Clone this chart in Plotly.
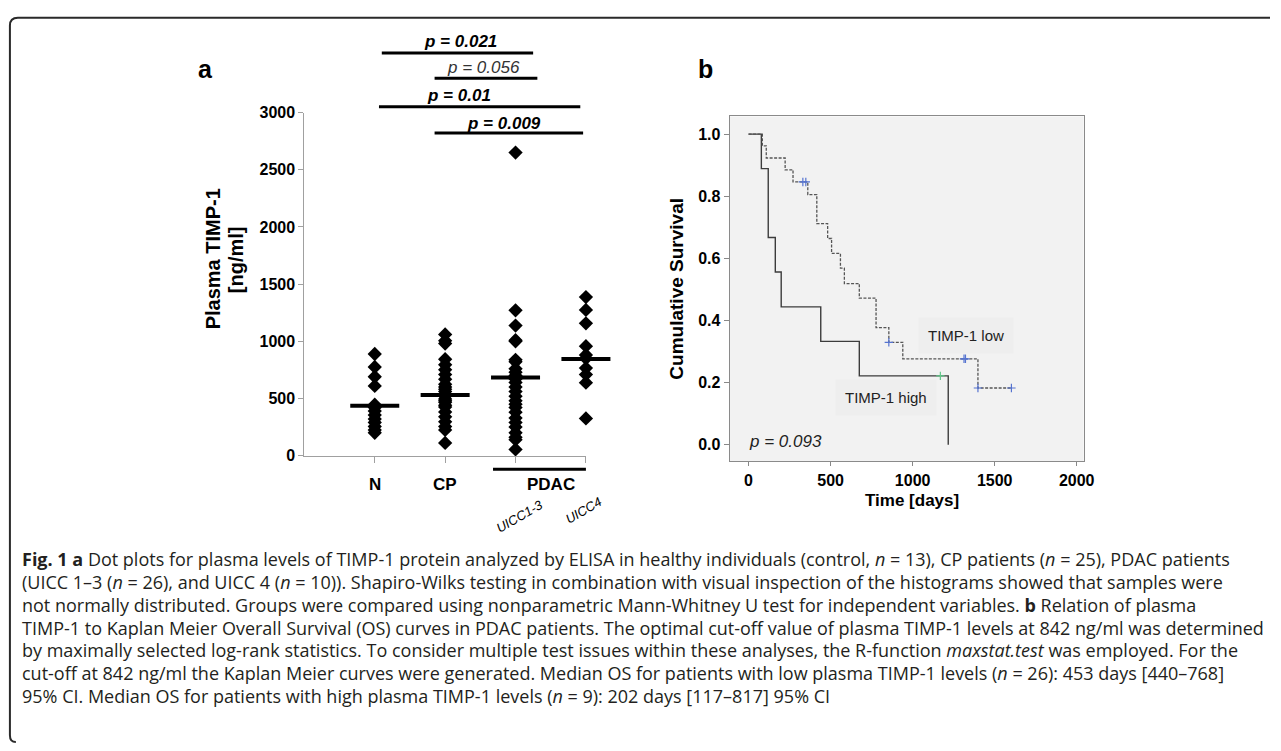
import plotly.graph_objects as go

W, H = 1281, 751

# ---------------- data: panel a (plasma TIMP-1, ng/ml) ----------------
groups = ["N", "CP", "UICC1-3", "UICC4"]
n_vals = [889, 775, 690, 610, 445, 420, 390, 355, 320, 290, 255, 225, 200]
cp_vals = [1060, 1005, 980, 843, 795, 752, 709, 667, 624, 600, 581, 560, 538, 520,
           496, 480, 467, 440, 425, 382, 339, 296, 254, 225, 111]
uicc13_vals = [2650, 1271, 1137, 1009, 1000, 838, 820, 760, 730, 700, 670, 640, 600,
               560, 520, 480, 450, 420, 380, 330, 290, 250, 200, 160, 140, 54]
uicc4_vals = [1387, 1274, 1157, 957, 880, 850, 766, 709, 638, 325]
group_bars = [436, 530, 684, 846]
y_ticks_a = [0, 500, 1000, 1500, 2000, 2500, 3000]

# comparisons: (group i, group j, label, bold)
comparisons = [(0, 2, "p = 0.021", True), (1, 2, "p = 0.056", False),
               (0, 3, "p = 0.01", True), (1, 3, "p = 0.009", True)]

# ---------------- data: panel b (Kaplan-Meier) ----------------
low_t = [0, 84, 108, 223, 271, 361, 416, 482, 506, 560, 584, 675, 777, 855, 940, 1398, 1602]
low_s = [1.0, 0.962, 0.923, 0.885, 0.846, 0.805, 0.712, 0.664, 0.616, 0.569, 0.519,
         0.472, 0.377, 0.330, 0.277, 0.183, 0.183]
low_cens_t = [331, 349, 855, 1313, 1322, 1398, 1602]
low_cens_s = [0.846, 0.846, 0.330, 0.277, 0.277, 0.183, 0.183]
high_t = [0, 78, 120, 163, 199, 440, 675, 1217]
high_s = [1.0, 0.889, 0.667, 0.556, 0.444, 0.333, 0.222, 0.0]
high_cens_t = [1169]
high_cens_s = [0.222]
x_ticks_b = [0, 500, 1000, 1500, 2000]
y_ticks_b = [0.0, 0.2, 0.4, 0.6, 0.8, 1.0]

caption_lines = [
    "<b>Fig. 1 a</b> Dot plots for plasma levels of TIMP-1 protein analyzed by ELISA in healthy individuals (control, <i>n</i> = 13), CP patients (<i>n</i> = 25), PDAC patients",
    "(UICC 1–3 (<i>n</i> = 26), and UICC 4 (<i>n</i> = 10)). Shapiro-Wilks testing in combination with visual inspection of the histograms showed that samples were",
    "not normally distributed. Groups were compared using nonparametric Mann-Whitney U test for independent variables. <b>b</b> Relation of plasma",
    "TIMP-1 to Kaplan Meier Overall Survival (OS) curves in PDAC patients. The optimal cut-off value of plasma TIMP-1 levels at 842 ng/ml was determined",
    "by maximally selected log-rank statistics. To consider multiple test issues within these analyses, the R-function <i>maxstat.test</i> was employed. For the",
    "cut-off at 842 ng/ml the Kaplan Meier curves were generated. Median OS for patients with low plasma TIMP-1 levels (<i>n</i> = 26): 453 days [440–768]",
    "95% CI. Median OS for patients with high plasma TIMP-1 levels (<i>n</i> = 9): 202 days [117–817] 95% CI",
]


def px(x):
    return x / W


def py(y):
    return 1 - y / H


AX = "Liberation Sans"
CAP = "Open Sans"
GREY = "#a0a0a0"

fig = go.Figure()

# ---- panel a: dots
all_vals = [n_vals, cp_vals, uicc13_vals, uicc4_vals]
for i, vals in enumerate(all_vals):
    fig.add_trace(go.Scatter(
        x=[i] * len(vals), y=vals, mode="markers", xaxis="x", yaxis="y",
        marker=dict(symbol="diamond", size=11, color="black", line=dict(width=0)),
        cliponaxis=False, showlegend=False, hoverinfo="y"))
fig.add_trace(go.Scatter(
    x=list(range(len(groups))), y=group_bars, mode="markers", xaxis="x", yaxis="y",
    marker=dict(symbol="line-ew", size=35, line=dict(width=4, color="black")),
    cliponaxis=False, showlegend=False, hoverinfo="y"))

# ---- panel b: KM curves
fig.add_trace(go.Scatter(x=high_t, y=high_s, mode="lines", xaxis="x2", yaxis="y2",
                         line=dict(shape="hv", color="#3c3c3c", width=1.4),
                         showlegend=False))
fig.add_trace(go.Scatter(x=low_t, y=low_s, mode="lines", xaxis="x2", yaxis="y2",
                         line=dict(shape="hv", color="#555555", width=1.3, dash="3px,1.5px"),
                         showlegend=False))
fig.add_trace(go.Scatter(x=low_cens_t, y=low_cens_s, mode="markers", xaxis="x2", yaxis="y2",
                         marker=dict(symbol="cross-thin", size=6,
                                     line=dict(width=1.2, color="#5573d0")),
                         showlegend=False))
fig.add_trace(go.Scatter(x=high_cens_t, y=high_cens_s, mode="markers", xaxis="x2", yaxis="y2",
                         marker=dict(symbol="cross-thin", size=6,
                                     line=dict(width=1.2, color="#62c98a")),
                         showlegend=False))

shapes = []
annotations = []

# outer frame
shapes.append(dict(type="path", xref="paper", yref="paper",
                   path=f"M {px(1281)},{py(10)} L {px(18)},{py(10)} Q {px(10)},{py(10)} {px(10)},{py(18)} "
                        f"L {px(10)},{py(744)} Q {px(10)},{py(751)} {px(16)},{py(751)}",
                   line=dict(color="#2a2a2a", width=2)))

# panel b background
shapes.append(dict(type="rect", xref="x2 domain", yref="y2 domain", x0=0, x1=1, y0=0, y1=1,
                   fillcolor="#f2f2f2", line=dict(width=0), layer="below"))

# significance brackets (layout positions)
br_x0 = [0.10, 0.85, 0.06, 0.85]
br_x1 = [2.25, 2.31, 2.92, 2.96]
br_y = [46, 72, 101, 128]
txt_x = [1.225, 1.55, 1.2, 1.83]
txt_y = [34, 61, 90, 118]
for k, (gi, gj, lab, bold) in enumerate(comparisons):
    shapes.append(dict(type="line", xref="x", yref="paper", x0=br_x0[k], x1=br_x1[k],
                       y0=py(br_y[k]), y1=py(br_y[k]), line=dict(color="black", width=3)))
    t = f"<i>{lab}</i>"
    if bold:
        t = f"<b>{t}</b>"
    annotations.append(dict(xref="x", yref="paper", x=txt_x[k], y=py(txt_y[k]), text=t,
                            showarrow=False, xanchor="center", yanchor="middle",
                            font=dict(family=AX, size=17, color="black" if bold else "#333333")))

# PDAC group line
shapes.append(dict(type="line", xref="x", yref="paper", x0=1.68, x1=3.02, y0=py(472), y1=py(472),
                   line=dict(color="black", width=3)))

# x labels panel a
for lab, xx in [("N", 0), ("CP", 1), ("PDAC", 2.5)]:
    annotations.append(dict(xref="x", yref="paper", x=xx, y=py(488), text=f"<b>{lab}</b>",
                            showarrow=False, xanchor="center", yanchor="middle",
                            font=dict(family=AX, size=17, color="black")))
for lab, xx, yy in [("UICC1-3", 2.05, 520), ("UICC4", 2.96, 514)]:
    annotations.append(dict(xref="x", yref="paper", x=xx, y=py(yy), text=f"<i>{lab}</i>",
                            showarrow=False, xanchor="center", yanchor="middle", textangle=-30,
                            font=dict(family=AX, size=13, color="black")))

# y title panel a
annotations.append(dict(xref="paper", yref="paper", x=px(215), y=py(257), text="<b>Plasma TIMP-1</b>",
                        showarrow=False, textangle=-90, xanchor="center", yanchor="middle",
                        font=dict(family=AX, size=20, color="black")))
annotations.append(dict(xref="paper", yref="paper", x=px(238), y=py(257), text="<b>[ng/ml]</b>",
                        showarrow=False, textangle=-90, xanchor="center", yanchor="middle",
                        font=dict(family=AX, size=20, color="black")))

# panel letters
for lab, xx in [("a", 207), ("b", 712)]:
    annotations.append(dict(xref="paper", yref="paper", x=px(xx), y=py(62), text=f"<b>{lab}</b>",
                            showarrow=False, xanchor="center", yanchor="middle",
                            font=dict(family=AX, size=25, color="black")))

# panel b titles
annotations.append(dict(xref="paper", yref="paper", x=px(682), y=py(287), text="<b>Cumulative Survival</b>",
                        showarrow=False, textangle=-90, xanchor="center", yanchor="middle",
                        font=dict(family=AX, size=19, color="black")))
annotations.append(dict(xref="paper", yref="paper", x=px(920), y=py(504), text="<b>Time [days]</b>",
                        showarrow=False, xanchor="center", yanchor="middle",
                        font=dict(family=AX, size=17, color="black")))

# KM labels
annotations.append(dict(xref="x2", yref="y2", x=1325, y=0.352, text="TIMP-1 low", showarrow=False,
                        xanchor="center", yanchor="middle", bgcolor="#eeeeee", borderpad=9,
                        font=dict(family=AX, size=15, color="#222222")))
annotations.append(dict(xref="x2", yref="y2", x=837, y=0.151, text="TIMP-1 high", showarrow=False,
                        xanchor="center", yanchor="middle", bgcolor="#eeeeee", borderpad=9,
                        font=dict(family=AX, size=15, color="#222222")))
annotations.append(dict(xref="x2", yref="y2", x=-12, y=0.01, text="<i>p = 0.093</i>", showarrow=False,
                        xanchor="left", yanchor="middle",
                        font=dict(family=AX, size=17, color="#222222")))

# caption
for k, line in enumerate(caption_lines):
    annotations.append(dict(xref="paper", yref="paper", x=px(20), y=py(564 + k * 23.3), text=line,
                            showarrow=False, xanchor="left", yanchor="middle", align="left",
                            font=dict(family=CAP, size=18, color="#231f20")))

tickfont = dict(family=AX, size=16, color="black", weight="bold")

fig.update_layout(
    width=W, height=H, margin=dict(l=0, r=0, t=0, b=0),
    paper_bgcolor="white", plot_bgcolor="rgba(0,0,0,0)",
    showlegend=False, shapes=shapes, annotations=annotations,
    xaxis=dict(domain=[px(307), px(591)], range=[-1, 3], tickvals=list(range(len(groups))),
               showticklabels=False, ticks="outside", ticklen=6, tickcolor=GREY,
               showline=True, linecolor=GREY, linewidth=1, showgrid=False, zeroline=False,
               anchor="y", fixedrange=True),
    yaxis=dict(domain=[py(458), py(107)], range=[0, 3000], tickvals=y_ticks_a,
               ticks="outside", ticklen=5, tickcolor=GREY, tickfont=tickfont,
               showline=True, linecolor=GREY, linewidth=1, showgrid=False, zeroline=False,
               anchor="x", fixedrange=True),
    xaxis2=dict(domain=[px(736), px(1093)], range=[-115, 2042], tickvals=x_ticks_b,
                ticks="outside", ticklen=4, tickcolor="#888888", tickfont=tickfont,
                showline=True, mirror=True, linecolor="#8a8a8a", linewidth=1,
                showgrid=False, zeroline=False, anchor="y2", fixedrange=True),
    yaxis2=dict(domain=[py(464), py(111)], range=[-0.0535, 1.0566], tickvals=y_ticks_b,
                tickformat=".1f", ticks="outside", ticklen=5, tickcolor="#888888", tickfont=tickfont,
                showline=True, mirror=True, linecolor="#8a8a8a", linewidth=1,
                showgrid=False, zeroline=False, anchor="x2", fixedrange=True),
)

fig.write_html("out.html", config={"displayModeBar": False},
               post_script="document.body.style.margin='0';")
